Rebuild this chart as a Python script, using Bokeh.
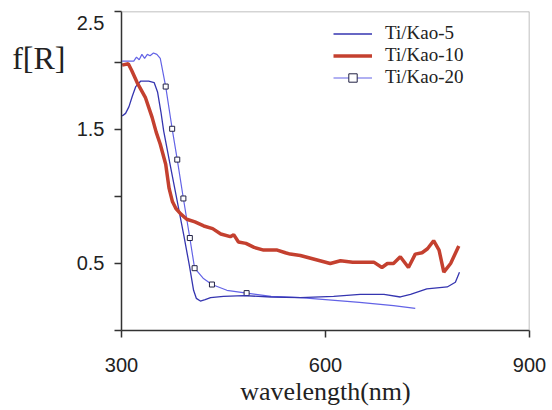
from bokeh.plotting import figure
from bokeh.models import Range1d, FixedTicker, Span, Legend, LegendItem, LinearAxis
from bokeh.embed import file_html
from bokeh.resources import INLINE

# ---- data ----
x_kao5 = [301, 306, 311, 316, 321, 328, 340, 348, 353, 358, 362, 371, 381, 392, 400, 406, 410, 416, 423, 431,
          450, 480, 520, 563, 612, 651, 686, 710, 725, 749, 779, 791, 797]
y_kao5 = [1.60, 1.62, 1.67, 1.75, 1.82, 1.86, 1.86, 1.85, 1.78, 1.63, 1.49, 1.25, 0.99, 0.70, 0.48, 0.30, 0.24, 0.22, 0.23, 0.245,
          0.255, 0.26, 0.25, 0.245, 0.255, 0.27, 0.27, 0.25, 0.27, 0.31, 0.325, 0.36, 0.435]

x_kao10 = [301, 310, 315, 323, 335, 345, 351, 357, 365, 370, 375, 380, 387, 396, 408, 421, 434, 446, 460, 465, 472,
           483, 495, 509, 529, 541, 548, 563, 585, 607, 622, 640, 661, 671, 683, 691, 700, 710, 722, 732, 742,
           750, 759, 767, 774, 784, 796]
y_kao10 = [1.98, 1.99, 1.94, 1.85, 1.74, 1.59, 1.48, 1.39, 1.24, 1.06, 0.96, 0.91, 0.87, 0.83, 0.81, 0.78, 0.76, 0.72, 0.70, 0.715, 0.66,
           0.65, 0.62, 0.60, 0.60, 0.58, 0.57, 0.56, 0.53, 0.50, 0.52, 0.51, 0.51, 0.51, 0.47, 0.50, 0.50, 0.55, 0.47, 0.57, 0.58,
           0.61, 0.67, 0.60, 0.435, 0.50, 0.63]

x_kao20 = [301, 310, 318, 322, 326, 330, 334, 338, 342, 347, 352, 357, 365, 374.5, 382, 391, 400.5, 407.5, 420, 433,
           455, 484, 520, 563, 600, 650, 700, 732]
y_kao20 = [2.01, 2.01, 2.01, 2.04, 2.02, 2.06, 2.03, 2.06, 2.05, 2.07, 2.06, 2.03, 1.82, 1.505, 1.275, 0.985, 0.69, 0.465, 0.39, 0.343,
           0.30, 0.279, 0.255, 0.245, 0.23, 0.21, 0.185, 0.165]
x_kao20_marks = [365, 374.5, 382, 391, 400.5, 407.5, 433, 484]
y_kao20_marks = [1.82, 1.505, 1.275, 0.985, 0.69, 0.465, 0.343, 0.279]

x_ticks = [300, 600, 900]
y_ticks = [0, 0.5, 1.0, 1.5, 2.0, 2.38]
y_tick_labels = {0: "", 0.5: "0.5", 1.0: "", 1.5: "1.5", 2.0: "", 2.38: "\n2.5"}
y_title_pos = [2.03]
y_title = {2.03: "f[R]"}
x_title = "wavelength(nm)"
names = ["Ti/Kao-5", "Ti/Kao-10", "Ti/Kao-20"]

c5 = "#3535b0"
c10 = "#c4402f"
c20 = "#6363e6"

p = figure(width=552, height=410, output_backend="svg", toolbar_location=None,
           x_range=Range1d(300, 900), y_range=Range1d(0, 2.38),
           min_border_left=121, min_border_right=23, min_border_top=11, min_border_bottom=80)
p.outline_line_color = None
p.grid.visible = False
p.background_fill_color = "white"
p.border_fill_color = "white"

for ax in (p.xaxis[0], p.yaxis[0]):
    ax.axis_line_color = "#333333"
    ax.axis_line_width = 1.5
    ax.major_tick_line_color = "#333333"
    ax.major_tick_line_width = 1.5
    ax.major_tick_out = 7
    ax.major_tick_in = 0
    ax.minor_tick_line_color = None
    ax.major_label_text_font = "Liberation Sans"
    ax.major_label_text_font_size = "20px"
    ax.major_label_text_color = "#222222"

p.xaxis.ticker = FixedTicker(ticks=x_ticks)
p.xaxis.major_label_standoff = 20
p.xaxis.axis_label = x_title
p.xaxis.axis_label_text_font = "Liberation Serif"
p.xaxis.axis_label_text_font_size = "26px"
p.xaxis.axis_label_text_font_style = "normal"
p.xaxis.axis_label_text_color = "#222222"
p.xaxis.axis_label_standoff = 2

p.yaxis.ticker = FixedTicker(ticks=y_ticks)
p.yaxis.major_label_overrides = y_tick_labels
p.yaxis.major_label_text_line_height = 0.5
p.yaxis.major_label_standoff = 10

# second left axis carrying only the "f[R]" title near the top
title_axis = LinearAxis(ticker=FixedTicker(ticks=y_title_pos), major_label_overrides=y_title,
                        axis_line_color=None, major_tick_line_color=None, minor_tick_line_color=None,
                        major_tick_out=0, major_tick_in=0, major_label_standoff=8,
                        major_label_text_font="Liberation Serif", major_label_text_font_size="32px",
                        major_label_text_color="#222222")
p.add_layout(title_axis, "left")

p.add_layout(Span(location=2.38, dimension="width", line_color="#aaaaaa", line_width=1.5))
p.add_layout(Span(location=900, dimension="height", line_color="#aaaaaa", line_width=1.5))

r20 = p.line(x_kao20, y_kao20, line_color=c20, line_width=1.2)
r20m = p.scatter(x_kao20_marks, y_kao20_marks, marker="square", size=5,
                 line_color="#222244", fill_color="white", line_width=1)
r5 = p.line(x_kao5, y_kao5, line_color=c5, line_width=1.3)
r10 = p.line(x_kao10, y_kao10, line_color=c10, line_width=3.5)

legend = Legend(items=[LegendItem(label=names[0], renderers=[r5]),
                       LegendItem(label=names[1], renderers=[r10]),
                       LegendItem(label=names[2], renderers=[r20, r20m])],
                location=(212, 242), padding=0, margin=0, spacing=0,
                glyph_width=39, glyph_height=21, label_height=21, label_standoff=13,
                label_text_font="Liberation Serif", label_text_font_size="19px",
                label_text_color="#222222", border_line_color=None,
                background_fill_alpha=0)
p.add_layout(legend)

open("out.html", "w").write(file_html(p, INLINE))
